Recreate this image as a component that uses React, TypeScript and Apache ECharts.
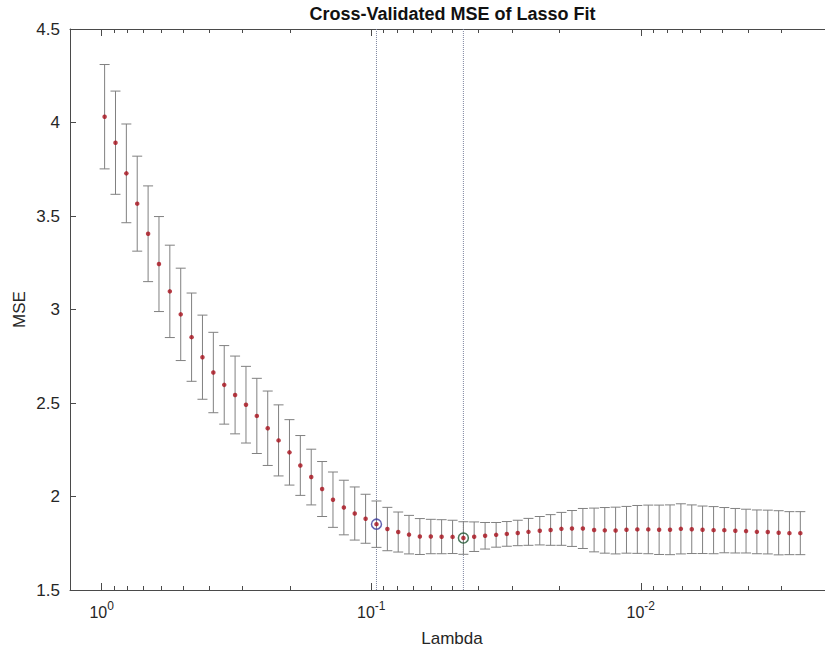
import React, { useEffect, useRef } from "react";
import * as echarts from "echarts";

// Lambda grid (read from the x positions of the points, log axis, decreasing)
const lambdas = [
  0.9747, 0.8882, 0.8095, 0.7378, 0.6723, 0.6127, 0.5584, 0.5088, 0.4637, 0.4226,
  0.3851, 0.3509, 0.3198, 0.2914, 0.2656, 0.2420, 0.2206, 0.2010, 0.1832, 0.1669,
  0.1521, 0.1386, 0.1263, 0.1151, 0.1049, 0.0956, 0.0871, 0.0794, 0.0724, 0.0660,
  0.0601, 0.0548, 0.0499, 0.0455, 0.0415, 0.0378, 0.0344, 0.0314, 0.0286, 0.0261,
  0.0237, 0.0216, 0.0197, 0.0180, 0.0164, 0.0149, 0.0136, 0.0124, 0.0113, 0.0103,
  0.00938, 0.00855, 0.00779, 0.00710, 0.00647, 0.00590, 0.00537, 0.00490, 0.00446, 0.00407,
  0.00371, 0.00338, 0.00308, 0.00281, 0.00256,
];

// Cross-validated MSE (red dots)
const mse = [
  4.031, 3.892, 3.728, 3.566, 3.405, 3.243, 3.097, 2.974, 2.852, 2.745,
  2.663, 2.597, 2.543, 2.491, 2.431, 2.365, 2.300, 2.236, 2.166, 2.104,
  2.040, 1.983, 1.941, 1.909, 1.881, 1.852, 1.826, 1.810, 1.796, 1.786,
  1.786, 1.785, 1.784, 1.778, 1.785, 1.790, 1.795, 1.800, 1.805, 1.811,
  1.817, 1.821, 1.827, 1.829, 1.829, 1.821, 1.819, 1.818, 1.822, 1.824,
  1.824, 1.822, 1.822, 1.827, 1.825, 1.822, 1.820, 1.820, 1.817, 1.815,
  1.811, 1.810, 1.806, 1.804, 1.804,
];

// Standard error (half length of each error bar)
const se = [
  0.279, 0.276, 0.264, 0.254, 0.256, 0.254, 0.247, 0.247, 0.236, 0.225,
  0.215, 0.210, 0.208, 0.205, 0.201, 0.199, 0.190, 0.175, 0.160, 0.149,
  0.147, 0.148, 0.146, 0.142, 0.131, 0.124, 0.116, 0.107, 0.103, 0.096,
  0.092, 0.091, 0.089, 0.087, 0.079, 0.071, 0.066, 0.066, 0.068, 0.072,
  0.076, 0.082, 0.088, 0.096, 0.107, 0.117, 0.122, 0.125, 0.125, 0.128,
  0.130, 0.132, 0.133, 0.134, 0.130, 0.127, 0.126, 0.121, 0.119, 0.117,
  0.117, 0.117, 0.118, 0.115, 0.115,
];

const idx1SE = 25; // blue circle
const idxMinMSE = 33; // green circle

const xRange = [0.00192, 1.31];
const yRange = [1.5, 4.5];
const yInterval = 0.5;
const majorTicks = [1, 0.1, 0.01];
const minorTicks = [
  0.9, 0.8, 0.7, 0.6, 0.5, 0.4, 0.3, 0.2,
  0.09, 0.08, 0.07, 0.06, 0.05, 0.04, 0.03, 0.02,
  0.009, 0.008, 0.007, 0.006, 0.005, 0.004, 0.003, 0.002,
];

const FONT = "'Liberation Sans', Arial, Helvetica, sans-serif";
const AXIS_COLOR = "#4a4a4a";
const TEXT_COLOR = "#262626";

export default function App() {
  const ref = useRef<HTMLDivElement>(null);

  useEffect(() => {
    if (!ref.current) return;
    const chart = echarts.init(ref.current, undefined, { renderer: "svg" });

    const xBase: any = {
      type: "log",
      logBase: 10,
      min: xRange[0],
      max: xRange[1],
      inverse: true,
      splitLine: { show: false },
      nameMoveOverlap: false,
    };
    const lineStyle = { color: AXIS_COLOR, width: 1 };

    const errData = lambdas.map((l, i) => [l, mse[i] - se[i], mse[i] + se[i]]);
    const ptData = lambdas.map((l, i) => [l, mse[i]]);

    const vline = (l: number) => ({
      type: "line",
      xAxisIndex: 0,
      data: [
        [l, yRange[0]],
        [l, yRange[1]],
      ],
      symbol: "none",
      silent: true,
      lineStyle: { type: "dotted", color: "#7f86a0", width: 1 },
      z: 1,
    });

    chart.setOption({
      animation: false,
      textStyle: { fontFamily: FONT },
      grid: { left: 70, top: 29, right: -9, bottom: 61, containLabel: false, outerBoundsMode: "none" },
      graphic: [
        {
          type: "text",
          x: 452.5,
          y: 14,
          style: {
            text: "Cross-Validated MSE of Lasso Fit",
            fontFamily: FONT,
            fontSize: 18,
            fontWeight: "bold",
            fill: "#111",
            textAlign: "center",
            textVerticalAlign: "middle",
          },
        },
      ],
      xAxis: [
        {
          ...xBase,
          position: "bottom",
          axisLine: { show: true, lineStyle },
          axisTick: { show: true, inside: true, length: 7, customValues: majorTicks, lineStyle },
          axisLabel: {
            show: true,
            customValues: majorTicks,
            margin: 10,
            formatter: (v: number) => `{b|10}{s|${Math.round(Math.log10(v))}}`,
            rich: {
              b: { fontSize: 16, color: TEXT_COLOR, fontFamily: FONT },
              s: { fontSize: 12, color: TEXT_COLOR, fontFamily: FONT, padding: [0, 0, 12, 0] },
            },
          },
          name: "Lambda",
          nameLocation: "middle",
          nameGap: 40,
          nameTextStyle: { fontSize: 17, color: TEXT_COLOR, fontFamily: FONT },
        },
        {
          ...xBase,
          position: "bottom",
          axisLine: { show: false },
          axisTick: { show: true, inside: true, length: 4, customValues: minorTicks, lineStyle },
          axisLabel: { show: false },
        },
        {
          ...xBase,
          position: "top",
          axisLine: { show: true, lineStyle },
          axisTick: { show: true, inside: true, length: 7, customValues: majorTicks, lineStyle },
          axisLabel: { show: false },
        },
        {
          ...xBase,
          position: "top",
          axisLine: { show: false },
          axisTick: { show: true, inside: true, length: 4, customValues: minorTicks, lineStyle },
          axisLabel: { show: false },
        },
      ],
      yAxis: {
        type: "value",
        min: yRange[0],
        max: yRange[1],
        interval: yInterval,
        splitLine: { show: false },
        axisLine: { show: true, lineStyle },
        axisTick: { show: true, inside: true, length: 6, lineStyle },
        axisLabel: { color: TEXT_COLOR, fontSize: 17, margin: 10, fontFamily: FONT },
        name: "MSE",
        nameLocation: "middle",
        nameGap: 42,
        nameRotate: 90,
        nameMoveOverlap: false,
        nameTextStyle: { fontSize: 17, color: TEXT_COLOR, fontFamily: FONT },
      },
      series: [
        vline(lambdas[idx1SE]),
        vline(lambdas[idxMinMSE]),
        {
          type: "custom",
          xAxisIndex: 0,
          encode: { x: 0, y: [1, 2] },
          data: errData,
          renderItem: (params: any, api: any) => {
            const x = api.value(0);
            const lo = api.coord([x, api.value(1)]);
            const hi = api.coord([x, api.value(2)]);
            const hw = 5;
            const style = { stroke: "#808080", lineWidth: 1 };
            return {
              type: "group",
              children: [
                { type: "line", shape: { x1: hi[0], y1: hi[1], x2: lo[0], y2: lo[1] }, style },
                { type: "line", shape: { x1: hi[0] - hw, y1: hi[1], x2: hi[0] + hw, y2: hi[1] }, style },
                { type: "line", shape: { x1: lo[0] - hw, y1: lo[1], x2: lo[0] + hw, y2: lo[1] }, style },
              ],
            };
          },
          z: 2,
        },
        {
          type: "scatter",
          xAxisIndex: 0,
          data: ptData,
          symbol: "circle",
          symbolSize: 4.5,
          itemStyle: { color: "#a8101c" },
          z: 3,
        },
        {
          type: "scatter",
          xAxisIndex: 0,
          data: [[lambdas[idx1SE], mse[idx1SE]]],
          symbol: "circle",
          symbolSize: 10,
          itemStyle: { color: "rgba(0,0,0,0)", borderColor: "#3a3a9c", borderWidth: 1.5 },
          z: 4,
        },
        {
          type: "scatter",
          xAxisIndex: 0,
          data: [[lambdas[idxMinMSE], mse[idxMinMSE]]],
          symbol: "circle",
          symbolSize: 10,
          itemStyle: { color: "rgba(0,0,0,0)", borderColor: "#1d5230", borderWidth: 1.5 },
          z: 4,
        },
      ],
    });

    return () => chart.dispose();
  }, []);

  return (
    <div
      ref={ref}
      style={{ position: "absolute", left: 0, top: 0, width: 825, height: 651, background: "#fff" }}
    />
  );
}
